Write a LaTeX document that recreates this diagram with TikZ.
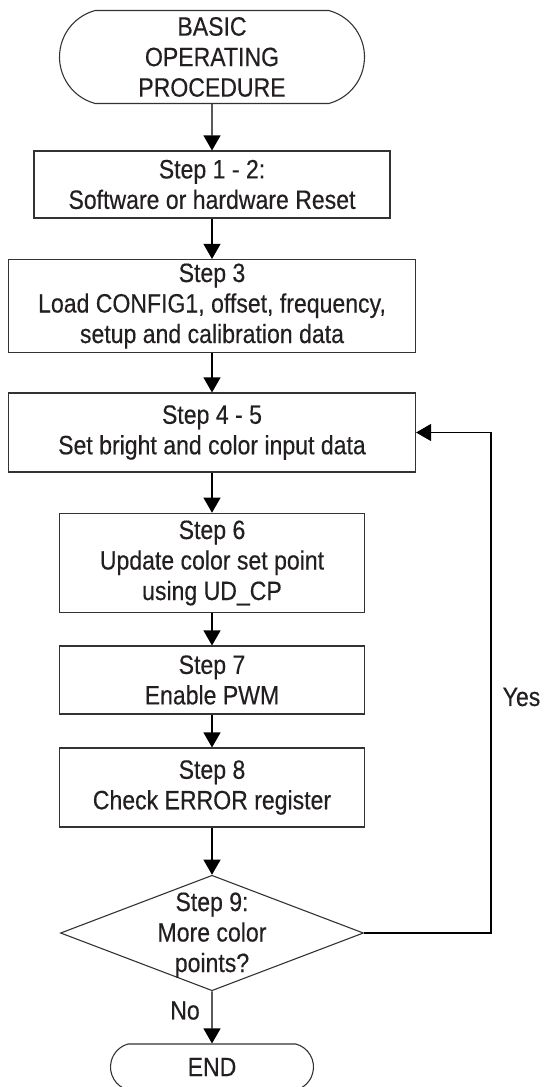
\documentclass[tikz,border=0pt]{standalone}
\usepackage{fontspec}
\setmainfont{Liberation Sans}[FakeStretch=0.87, FakeBold=0.35]
\usetikzlibrary{arrows.meta,shapes.geometric,shapes.misc}
\definecolor{inkgray}{HTML}{231F20}
\begin{document}
\begin{tikzpicture}[x=1pt, y=-1pt, line width=1.1pt,
        every node/.style={font=\fontsize{26.5}{30.5}\selectfont, text=inkgray, align=center},
        stepbox/.style={draw=black!80, rectangle, inner sep=0pt},
        termbox/.style={draw=black!80, rounded rectangle, rounded rectangle arc length=150, inner sep=0pt},
        flow/.style={draw=black, -{Triangle[length=15pt, width=17pt]}}]
    \useasboundingbox (0,0) rectangle (546,1087);
    % steps, top to bottom
    \node[termbox, minimum width=305pt, minimum height=93pt] (start) at (212,57) {BASIC\\OPERATING\\PROCEDURE};
    \node[stepbox, minimum width=356pt, minimum height=67pt] (s12) at (212,184.5) {Step 1 - 2:\\Software or hardware Reset};
    \node[stepbox, minimum width=407pt, minimum height=93pt] (s3) at (212,306) {Step 3\\Load CONFIG1, offset, frequency,\\setup and calibration data};
    \node[stepbox, minimum width=407pt, minimum height=79pt] (s45) at (212,432.5) {Step 4 - 5\\Set bright and color input data};
    \node[stepbox, minimum width=305pt, minimum height=99.5pt] (s6) at (212,563) {Step 6\\Update color set point\\using UD\_CP};
    \node[stepbox, minimum width=305pt, minimum height=68pt] (s7) at (212,680) {Step 7\\Enable PWM};
    \node[stepbox, minimum width=305pt, minimum height=79pt] (s8) at (212,787.5) {Step 8\\Check ERROR register};
    \node[draw=black!80, diamond, minimum width=303pt, minimum height=115.5pt, inner sep=0pt] (dec) at (212,933) {};
    \node (dectext) at (212,935) {Step 9:\\More color\\points?};
    \node[termbox, minimum width=203pt, minimum height=46pt] (end) at (212,1067) {END};
    % connectors
    \foreach \from/\to in {start/s12, s12/s3, s3/s45, s45/s6, s6/s7, s7/s8, s8/dec, dec/end}
        \draw[flow] (\from) -- (\to);
    \coordinate (back) at (491,432.5);
    \draw[flow] (dec.east) -| (back) -- (s45.east);
    \node (yes) at (521.5,697) {Yes};
    \node (no) at (185,1010.5) {No};
\end{tikzpicture}
\end{document}
